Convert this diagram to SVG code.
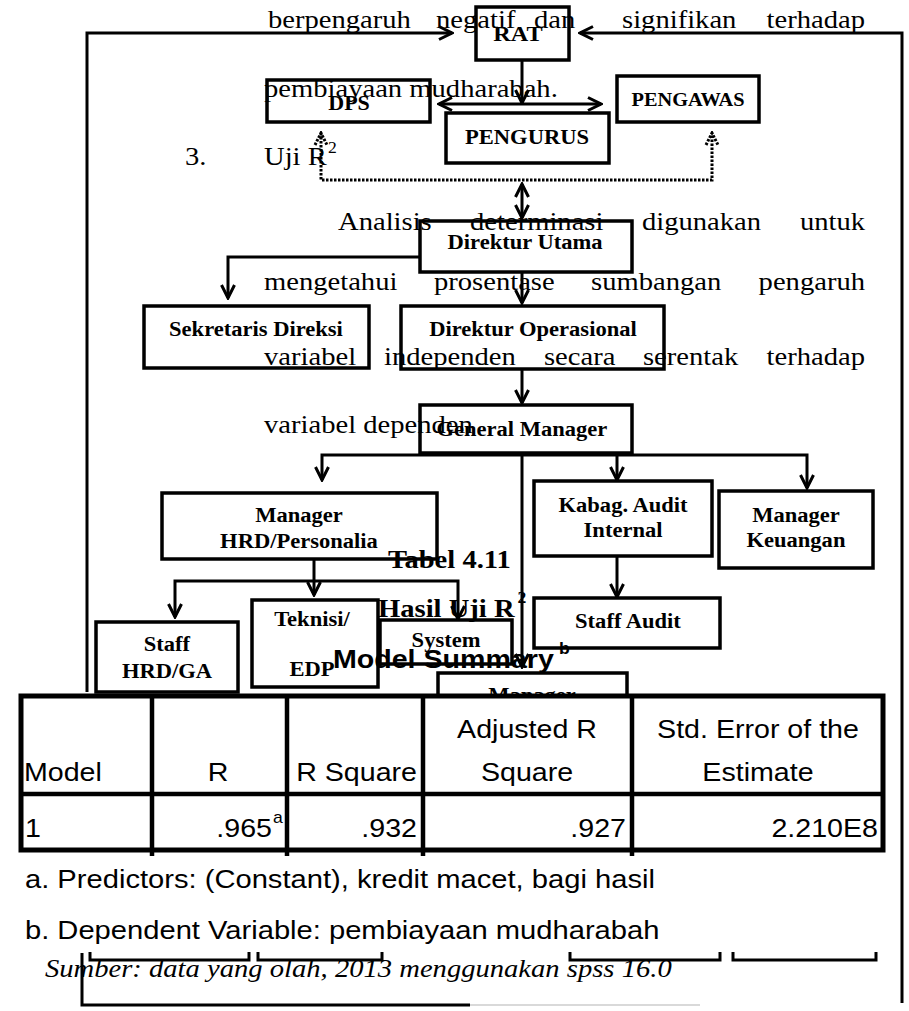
<svg xmlns="http://www.w3.org/2000/svg" width="909" height="1011" viewBox="0 0 909 1011">
<style>
.box{fill:none;stroke:#000;stroke-width:3.5}
.ln{fill:none;stroke:#000;stroke-width:3}
.dot{fill:none;stroke:#000;stroke-width:3;stroke-dasharray:2.5 1.5}
.lbl{font-family:"Liberation Serif","Times New Roman",serif;font-weight:bold;font-size:20.5px;text-anchor:middle;fill:#000}
.l18{font-size:18.5px}.l20{font-size:20px}.l22{font-size:22px}
.para{font-family:"Liberation Serif","Times New Roman",serif;font-size:26px;fill:#000}
.end{text-anchor:end}.mid{text-anchor:middle}
.ttl{font-family:"Liberation Serif","Times New Roman",serif;font-weight:bold;font-size:26px;fill:#000}
.tbl{font-family:"Liberation Sans",Arial,sans-serif;font-size:26px;fill:#000}
.fn{font-family:"Liberation Sans",Arial,sans-serif;font-size:26.5px;fill:#000}
.sup{font-size:16px}
.cell{fill:#fff;stroke:#000;stroke-width:5}
.cl{stroke:#000;stroke-width:4.5}
</style>
<defs>
<marker id="ar" viewBox="-16 -9 18 18" refX="0" refY="0" markerWidth="18" markerHeight="18" markerUnits="userSpaceOnUse" orient="auto-start-reverse">
<path d="M-13,-6.5 L0,0 L-13,6.5" fill="none" stroke="#000" stroke-width="3"/>
</marker>
<marker id="ard" viewBox="-16 -9 18 18" refX="0" refY="0" markerWidth="18" markerHeight="18" markerUnits="userSpaceOnUse" orient="auto-start-reverse">
<path d="M-12,-6 L0,0 L-12,6" fill="none" stroke="#000" stroke-width="3" stroke-dasharray="2.5 1.5"/>
</marker>
</defs>
<rect width="909" height="1011" fill="#fff"/>

<g id="connectors">
<path class="ln" d="M87,692 V33 H452" marker-end="url(#ar)"/>
<path class="ln" d="M902,1003 V33 H580" marker-end="url(#ar)"/>
<path class="ln" d="M522,60 V103" marker-end="url(#ar)"/>
<path class="ln" d="M439,104 H601" marker-start="url(#ar)" marker-end="url(#ar)"/>
<path class="dot" d="M321,133 V180 H712 V133" marker-start="url(#ard)" marker-end="url(#ard)"/>
<path class="ln" d="M522,184 V218" marker-start="url(#ar)" marker-end="url(#ar)"/>
<path class="ln" d="M420,257 H228 V298" marker-end="url(#ar)"/>
<path class="ln" d="M522,272 V303" marker-end="url(#ar)"/>
<path class="ln" d="M522,369 V403" marker-end="url(#ar)"/>
<path class="ln" d="M322,480 V455 H807 V488" marker-start="url(#ar)" marker-end="url(#ar)"/>
<path class="ln" d="M617,455 V480" marker-end="url(#ar)"/>
<path class="ln" d="M522,453 V667" marker-end="url(#ar)"/>
<path class="ln" d="M617,556 V597" marker-end="url(#ar)"/>
<path class="ln" d="M314,559 V595" marker-end="url(#ar)"/>
<path class="ln" d="M175,617 V581 H458 V619" marker-start="url(#ar)" marker-end="url(#ar)"/>
</g>

<g id="rat"><rect class="box" x="476" y="7" width="93" height="53"/><text class="lbl l22" x="470.9" y="41" transform="scale(1.1 1)">RAT</text></g>
<g id="dps"><rect class="box" x="267" y="80" width="163" height="42"/><text class="lbl l20" x="317.3" y="110" transform="scale(1.1 1)">DPS</text></g>
<g id="pengurus"><rect class="box" x="446" y="113" width="163" height="50"/><text class="lbl" x="479.1" y="144" transform="scale(1.1 1)">PENGURUS</text></g>
<g id="pengawas"><rect class="box" x="617" y="76" width="142" height="46"/><text class="lbl l18" x="625.5" y="106" transform="scale(1.1 1)">PENGAWAS</text></g>
<g id="direktur-utama"><rect class="box" x="420" y="221" width="212" height="51"/><text class="lbl" x="477.3" y="249" transform="scale(1.1 1)">Direktur Utama</text></g>
<g id="sekretaris"><rect class="box" x="144" y="306" width="225" height="62"/><text class="lbl" x="232.7" y="336" transform="scale(1.1 1)">Sekretaris Direksi</text></g>
<g id="direktur-operasional"><rect class="box" x="401" y="306" width="263" height="63"/><text class="lbl" x="484.5" y="336" transform="scale(1.1 1)">Direktur Operasional</text></g>
<g id="general-manager"><rect class="box" x="420" y="405" width="212" height="48"/><text class="lbl" x="474.5" y="436" transform="scale(1.1 1)">General Manager</text></g>
<g id="manager-hrd"><rect class="box" x="162" y="493" width="275" height="66"/><text class="lbl" transform="scale(1.1 1)"><tspan x="271.8" y="522">Manager</tspan><tspan x="271.8" y="548">HRD/Personalia</tspan></text></g>
<g id="kabag-audit"><rect class="box" x="534" y="481" width="178" height="75"/><text class="lbl" transform="scale(1.1 1)"><tspan x="566.4" y="512">Kabag. Audit</tspan><tspan x="566.4" y="537">Internal</tspan></text></g>
<g id="manager-keuangan"><rect class="box" x="719" y="491" width="154" height="77"/><text class="lbl" transform="scale(1.1 1)"><tspan x="723.6" y="522">Manager</tspan><tspan x="723.6" y="547">Keuangan</tspan></text></g>
<g id="staff-audit"><rect class="box" x="534" y="598" width="186" height="50"/><text class="lbl" x="570.9" y="628" transform="scale(1.1 1)">Staff Audit</text></g>
<g id="staff-hrd"><rect class="box" x="96" y="622" width="142" height="70"/><text class="lbl" transform="scale(1.1 1)"><tspan x="151.8" y="651">Staff</tspan><tspan x="151.8" y="678">HRD/GA</tspan></text></g>
<g id="teknisi"><rect class="box" x="252" y="600" width="126" height="87"/><text class="lbl" transform="scale(1.1 1)"><tspan x="283.6" y="626">Teknisi/</tspan><tspan x="283.6" y="676">EDP</tspan></text></g>
<g id="system"><rect class="box" x="380" y="620" width="132" height="44"/><text class="lbl" x="405.5" y="647" transform="scale(1.1 1)">System</text></g>
<g id="manager-partial"><rect class="box" x="438" y="673" width="189" height="40"/><text class="lbl" x="483.6" y="702" transform="scale(1.1 1)">Manager</text></g>

<g id="paragraph" class="para" transform="scale(1.1 1)">
<text x="243.6" y="28">berpengaruh</text>
<text x="396.4" y="28">negatif</text>
<text x="485.5" y="28">dan</text>
<text x="565.5" y="28">signifikan</text>
<text class="end" x="786.4" y="28">terhadap</text>
<text x="240" y="97">pembiayaan mudharabah.</text>
<text x="168.2" y="165">3.</text>
<text x="240" y="165">Uji R</text>
<text class="sup" x="298.2" y="153">2</text>
<text x="307.3" y="230">Analisis</text>
<text x="427.3" y="230">determinasi</text>
<text x="583.6" y="230">digunakan</text>
<text class="end" x="786.4" y="230">untuk</text>
<text x="240" y="290">mengetahui</text>
<text x="394.5" y="290">prosentase</text>
<text x="537.3" y="290">sumbangan</text>
<text class="end" x="786.4" y="290">pengaruh</text>
<text x="240" y="365">variabel</text>
<text x="349.1" y="365">independen</text>
<text x="494.5" y="365">secara</text>
<text x="584.5" y="365">serentak</text>
<text class="end" x="786.4" y="365">terhadap</text>
<text x="240" y="433">variabel dependen</text>
</g>

<g id="titles" transform="scale(1.1 1)">
<text class="ttl" x="352.7" y="568">Tabel 4.11</text>
<text class="ttl" x="343.6" y="617">Hasil Uji R</text>
<text class="ttl sup" x="470.5" y="603">2</text>
<text class="tbl" font-weight="bold" x="302.7" y="668">Model Summary</text>
<text class="tbl sup" font-weight="bold" x="508.2" y="654">b</text>
</g>

<g id="table">
<rect class="cell" x="21" y="696" width="862" height="154"/>
<line class="cl" x1="152" y1="696" x2="152" y2="856"/>
<line class="cl" x1="287" y1="696" x2="287" y2="856"/>
<line class="cl" x1="423" y1="696" x2="423" y2="856"/>
<line class="cl" x1="632" y1="696" x2="632" y2="856"/>
<line class="cl" x1="21" y1="794" x2="883" y2="794" stroke-width="5"/>
<g class="tbl" transform="scale(1.1 1)">
<text x="21.8" y="781">Model</text>
<text class="mid" x="198.2" y="781">R</text>
<text class="end" x="379.1" y="781">R Square</text>
<text class="mid" x="479.1" y="738">Adjusted R</text>
<text class="mid" x="479.1" y="781">Square</text>
<text class="mid" x="689.1" y="738">Std. Error of the</text>
<text class="mid" x="689.1" y="781">Estimate</text>
<text x="22.7" y="837">1</text>
<text class="end" x="247.3" y="837">.965</text>
<text class="sup" x="248.2" y="823">a</text>
<text class="end" x="379.1" y="837">.932</text>
<text class="end" x="569.1" y="837">.927</text>
<text class="end" x="798.2" y="837">2.210E8</text>
</g>
</g>

<g id="footnotes" transform="scale(1.1 1)">
<text class="fn" x="22.7" y="888">a. Predictors: (Constant), kredit macet, bagi hasil</text>
<text class="fn" x="22.7" y="939">b. Dependent Variable: pembiayaan mudharabah</text>
<text class="para" font-style="italic" font-size="25.3" x="40.9" y="977">Sumber: data yang olah, 2013 menggunakan spss 16.0</text>
</g>

<g id="bottom-lines">
<path class="ln" d="M90,952 V960 H249 V952"/>
<path class="ln" d="M258,952 V960 H382 V952"/>
<path class="ln" d="M570,952 V960 H720 V952"/>
<path class="ln" d="M733,952 V960 H876 V952"/>
<path class="ln" d="M82,953 V1005 H470"/>
<path d="M470,1005 H700" stroke="#ccc" stroke-width="1.5"/>
</g>
</svg>
